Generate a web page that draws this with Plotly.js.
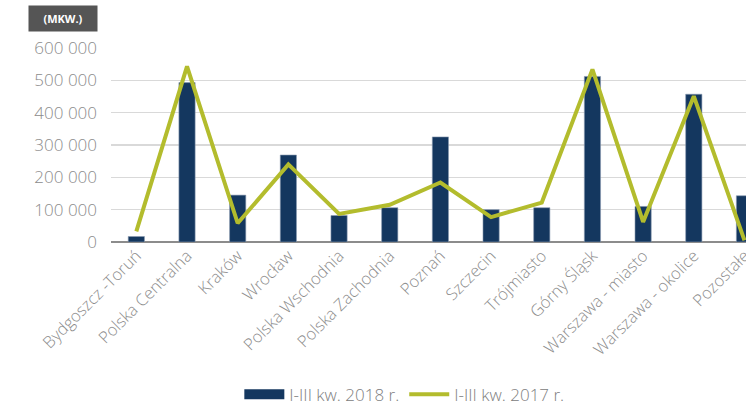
<!DOCTYPE html>
<html>
<head>
<meta charset="utf-8">
<script src="https://cdn.plot.ly/plotly-3.0.1.min.js"></script>
<style>html,body{margin:0;padding:0;background:#fff;}#chart{width:746px;height:407px;}</style>
</head>
<body>
<div id="chart"></div>
<script>
const categories = ["Bydgoszcz -Toruń","Polska Centralna","Kraków","Wrocław","Polska Wschodnia","Polska Zachodnia","Poznań","Szczecin","Trójmiasto","Górny Śląsk","Warszawa - miasto","Warszawa - okolice","Pozostałe"];
const values2018 = [17000,493000,145000,269000,82000,106000,325000,100000,106000,512000,110000,457000,143000];
const values2017 = [33000,543000,58000,240000,87000,115000,184000,77000,122000,534000,62000,451000,5000];
const name2018 = "I-III kw. 2018 r.";
const name2017 = "I-III kw. 2017 r.";
const yTicks = [0,100000,200000,300000,400000,500000,600000];
const unitLabel = "(MKW.)";

const font = "'Open Sans', Lato, sans-serif";
const navy = "#14375F";
const green = "#B3BC2D";
const data = [
  {type:"bar", x:categories, y:values2018, name:name2018, showlegend:false, legendgroup:"a",
   marker:{color:navy, line:{color:"#8a9bb0", width:0.6}}},
  {type:"scatter", mode:"lines", x:[categories[0]], y:[null], name:name2018, legendgroup:"a", showlegend:true,
   line:{color:navy, width:10}},
  {type:"scatter", mode:"lines", x:categories, y:values2017, name:name2017,
   line:{color:green, width:4}, cliponaxis:false}
];
const layout = {
  width:746, height:407,
  margin:{l:110.7, r:0, t:48, b:165},
  paper_bgcolor:"#fff", plot_bgcolor:"#fff",
  separators:", ",
  bargap:0.68,
  showlegend:true,
  legend:{orientation:"h", x:0.542, xanchor:"center", xref:"container", y:0.03, yanchor:"middle", yref:"container",
          font:{family:font, size:17, color:"#808080", weight:300}, traceorder:"normal", itemwidth:40},
  xaxis:{type:"category", range:[-0.5, 12.03], tickangle:-45, showgrid:false, automargin:false,
         tickfont:{family:font, size:16.5, color:"#8c8c8c", weight:300}, ticks:"", showline:false, zeroline:false},
  yaxis:{range:[0,600000], tickvals:yTicks, tickformat:",d", showgrid:true, gridcolor:"#d9d9d9", gridwidth:1.5,
         zeroline:true, zerolinecolor:"#8c8c8c", zerolinewidth:1.5, ticks:"", ticklen:0,
         tickfont:{family:font, size:17, color:"#8c8c8c", weight:300}, automargin:false, ticklabelstandoff:13},
  annotations:[{text:"<b>"+unitLabel+"</b>", xref:"paper", yref:"paper", x:-0.075, y:1.0, xanchor:"center", yanchor:"bottom",
    yshift:16, showarrow:false, bgcolor:"#555555", font:{family:font, size:11, color:"#ffffff"}, borderpad:5, width:58}]
};
Plotly.newPlot("chart", data, layout, {displayModeBar:false, staticPlot:true});
</script>
</body>
</html>
